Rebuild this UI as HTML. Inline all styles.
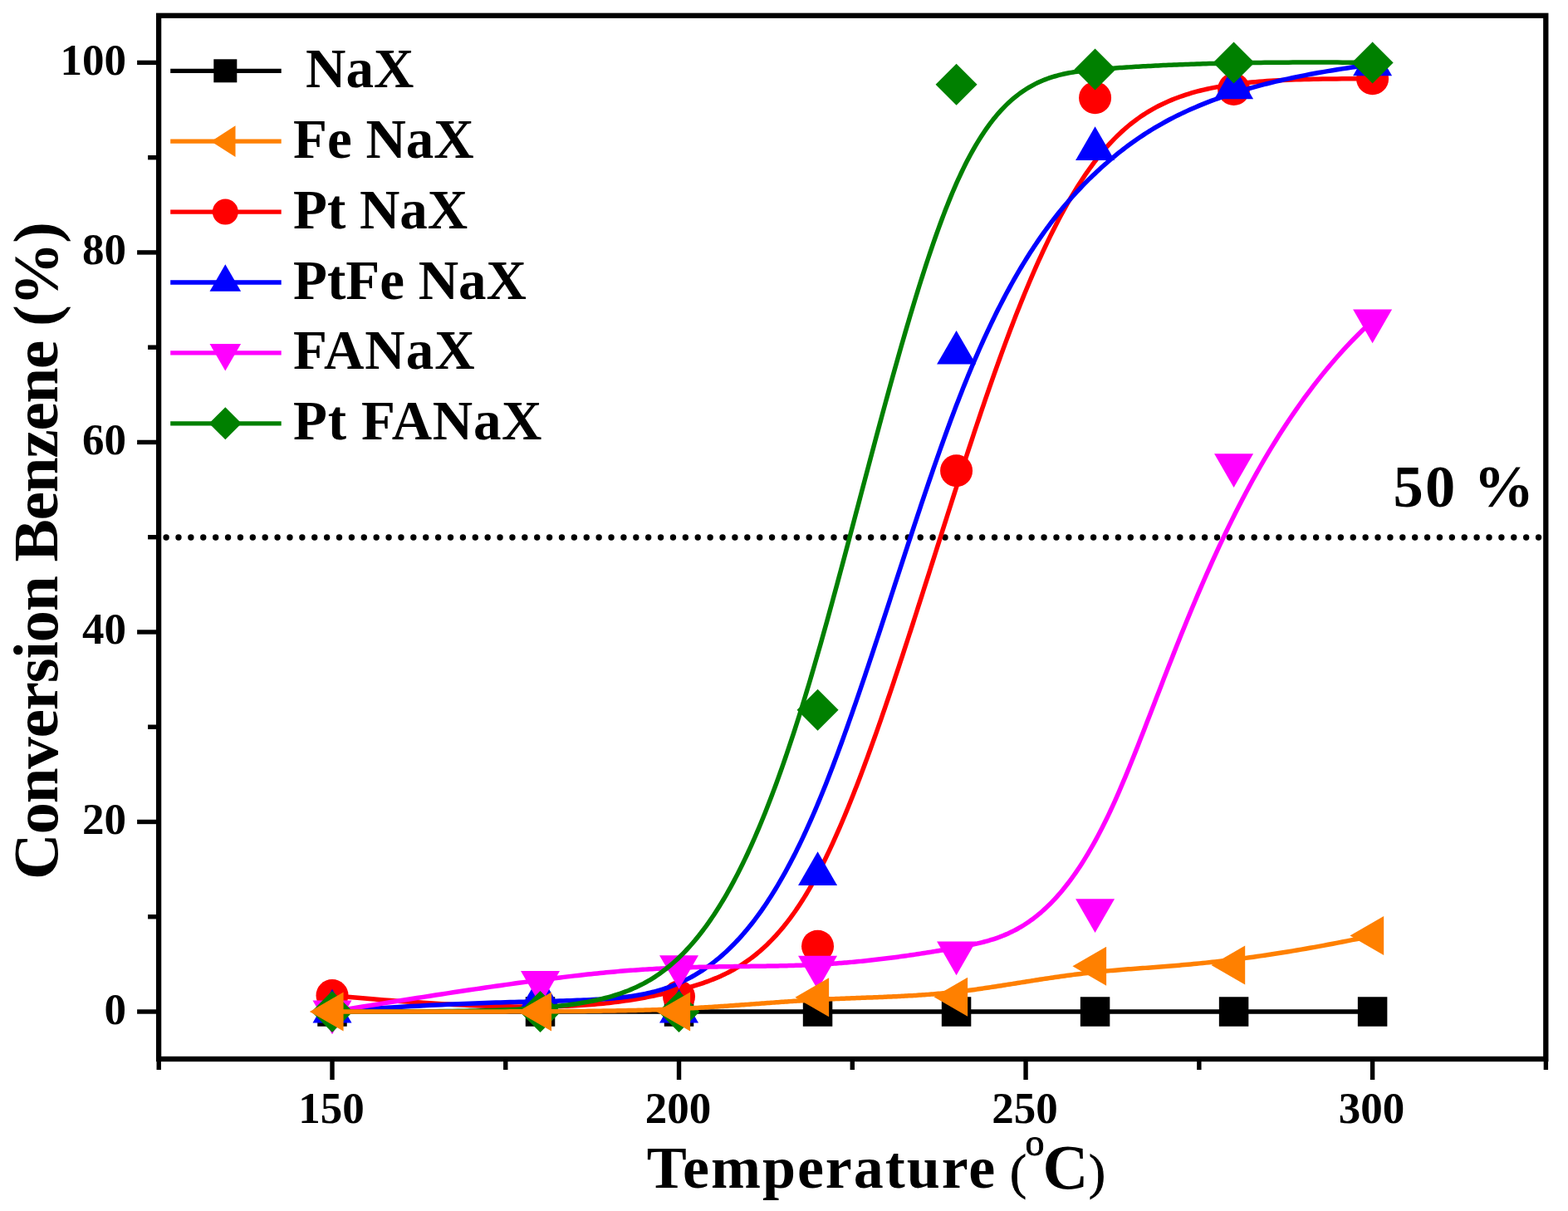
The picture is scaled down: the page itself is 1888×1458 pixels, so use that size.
<!DOCTYPE html><html><head><meta charset="utf-8"><style>html,body{margin:0;padding:0;background:#fff;}svg{display:block;}</style></head><body><svg width="1888" height="1458" viewBox="0 0 1888 1458">
<rect width="1888" height="1458" fill="#fff"/>
<line x1="200.1" y1="647.00" x2="1856" y2="647.00" stroke="#000" stroke-width="7.4" stroke-linecap="round" stroke-dasharray="0 14.887"/>
<path d="M400.00,1218.00 L409.34,1218.00 L418.52,1218.00 L427.55,1218.00 L436.43,1218.00 L445.16,1218.00 L453.74,1218.00 L462.17,1218.00 L470.46,1218.00 L478.61,1218.00 L486.61,1218.00 L494.48,1218.00 L502.21,1218.00 L509.80,1218.00 L517.26,1218.00 L524.58,1218.00 L531.78,1218.00 L538.85,1218.00 L545.79,1218.00 L552.60,1218.00 L559.30,1218.00 L565.87,1218.00 L572.32,1218.00 L578.66,1218.00 L584.88,1218.00 L590.98,1218.00 L596.97,1218.00 L602.86,1218.00 L608.63,1218.00 L614.30,1218.00 L619.86,1218.00 L625.32,1218.00 L630.68,1218.00 L635.94,1218.00 L641.10,1218.00 L646.16,1218.00 L651.13,1218.00 L656.01,1218.00 L660.80,1218.00 L665.50,1218.00 L670.11,1218.00 L674.64,1218.00 L679.08,1218.00 L683.45,1218.00 L687.73,1218.00 L691.94,1218.00 L696.07,1218.00 L700.12,1218.00 L704.10,1218.00 L708.02,1218.00 L711.86,1218.00 L715.63,1218.00 L719.35,1218.00 L722.99,1218.00 L726.58,1218.00 L730.11,1218.00 L733.58,1218.00 L736.99,1218.00 L740.35,1218.00 L743.65,1218.00 L746.91,1218.00 L750.11,1218.00 L753.27,1218.00 L756.38,1218.00 L759.45,1218.00 L762.48,1218.00 L765.47,1218.00 L768.42,1218.00 L771.34,1218.00 L774.22,1218.00 L777.06,1218.00 L779.88,1218.00 L782.67,1218.00 L785.43,1218.00 L788.16,1218.00 L790.87,1218.00 L793.56,1218.00 L796.23,1218.00 L798.88,1218.00 L801.52,1218.00 L804.14,1218.00 L806.74,1218.00 L809.34,1218.00 L811.92,1218.00 L814.49,1218.00 L817.05,1218.00 L819.59,1218.00 L822.12,1218.00 L824.64,1218.00 L827.15,1218.00 L829.65,1218.00 L832.13,1218.00 L834.61,1218.00 L837.07,1218.00 L839.52,1218.00 L841.96,1218.00 L844.39,1218.00 L846.81,1218.00 L849.22,1218.00 L851.62,1218.00 L854.01,1218.00 L856.39,1218.00 L858.76,1218.00 L861.12,1218.00 L863.47,1218.00 L865.82,1218.00 L868.15,1218.00 L870.47,1218.00 L872.79,1218.00 L875.10,1218.00 L877.40,1218.00 L879.69,1218.00 L881.97,1218.00 L884.25,1218.00 L886.51,1218.00 L888.77,1218.00 L891.03,1218.00 L893.27,1218.00 L895.51,1218.00 L897.74,1218.00 L899.97,1218.00 L902.19,1218.00 L904.40,1218.00 L906.60,1218.00 L908.80,1218.00 L911.00,1218.00 L913.19,1218.00 L915.37,1218.00 L917.55,1218.00 L919.72,1218.00 L921.89,1218.00 L924.05,1218.00 L926.21,1218.00 L928.36,1218.00 L930.51,1218.00 L932.65,1218.00 L934.79,1218.00 L936.93,1218.00 L939.06,1218.00 L941.19,1218.00 L943.32,1218.00 L945.44,1218.00 L947.56,1218.00 L949.68,1218.00 L951.79,1218.00 L953.90,1218.00 L956.01,1218.00 L958.12,1218.00 L960.23,1218.00 L962.33,1218.00 L964.43,1218.00 L966.53,1218.00 L968.63,1218.00 L970.73,1218.00 L972.82,1218.00 L974.92,1218.00 L977.01,1218.00 L979.10,1218.00 L981.20,1218.00 L983.29,1218.00 L985.38,1218.00 L987.48,1218.00 L989.57,1218.00 L991.66,1218.00 L993.76,1218.00 L995.85,1218.00 L997.94,1218.00 L1000.03,1218.00 L1002.13,1218.00 L1004.22,1218.00 L1006.31,1218.00 L1008.41,1218.00 L1010.50,1218.00 L1012.59,1218.00 L1014.68,1218.00 L1016.78,1218.00 L1018.87,1218.00 L1020.96,1218.00 L1023.06,1218.00 L1025.15,1218.00 L1027.24,1218.00 L1029.33,1218.00 L1031.43,1218.00 L1033.52,1218.00 L1035.61,1218.00 L1037.71,1218.00 L1039.80,1218.00 L1041.89,1218.00 L1043.99,1218.00 L1046.08,1218.00 L1048.17,1218.00 L1050.26,1218.00 L1052.36,1218.00 L1054.45,1218.00 L1056.54,1218.00 L1058.64,1218.00 L1060.73,1218.00 L1062.82,1218.00 L1064.91,1218.00 L1067.01,1218.00 L1069.10,1218.00 L1071.19,1218.00 L1073.29,1218.00 L1075.38,1218.00 L1077.47,1218.00 L1079.56,1218.00 L1081.66,1218.00 L1083.75,1218.00 L1085.84,1218.00 L1087.94,1218.00 L1090.03,1218.00 L1092.12,1218.00 L1094.21,1218.00 L1096.31,1218.00 L1098.40,1218.00 L1100.49,1218.00 L1102.59,1218.00 L1104.68,1218.00 L1106.77,1218.00 L1108.87,1218.00 L1110.96,1218.00 L1113.05,1218.00 L1115.14,1218.00 L1117.24,1218.00 L1119.33,1218.00 L1121.42,1218.00 L1123.52,1218.00 L1125.61,1218.00 L1127.70,1218.00 L1129.79,1218.00 L1131.89,1218.00 L1133.98,1218.00 L1136.07,1218.00 L1138.17,1218.00 L1140.26,1218.00 L1142.35,1218.00 L1144.44,1218.00 L1146.54,1218.00 L1148.63,1218.00 L1150.72,1218.00 L1152.82,1218.00 L1154.91,1218.00 L1157.00,1218.00 L1159.10,1218.00 L1161.19,1218.00 L1163.29,1218.00 L1165.38,1218.00 L1167.48,1218.00 L1169.58,1218.00 L1171.68,1218.00 L1173.78,1218.00 L1175.88,1218.00 L1177.99,1218.00 L1180.09,1218.00 L1182.20,1218.00 L1184.31,1218.00 L1186.43,1218.00 L1188.54,1218.00 L1190.66,1218.00 L1192.79,1218.00 L1194.91,1218.00 L1197.04,1218.00 L1199.18,1218.00 L1201.31,1218.00 L1203.45,1218.00 L1205.60,1218.00 L1207.75,1218.00 L1209.90,1218.00 L1212.06,1218.00 L1214.22,1218.00 L1216.39,1218.00 L1218.56,1218.00 L1220.74,1218.00 L1222.92,1218.00 L1225.11,1218.00 L1227.30,1218.00 L1229.50,1218.00 L1231.71,1218.00 L1233.92,1218.00 L1236.14,1218.00 L1238.37,1218.00 L1240.60,1218.00 L1242.84,1218.00 L1245.08,1218.00 L1247.33,1218.00 L1249.59,1218.00 L1251.86,1218.00 L1254.14,1218.00 L1256.42,1218.00 L1258.71,1218.00 L1261.01,1218.00 L1263.32,1218.00 L1265.63,1218.00 L1267.96,1218.00 L1270.29,1218.00 L1272.63,1218.00 L1274.99,1218.00 L1277.35,1218.00 L1279.72,1218.00 L1282.10,1218.00 L1284.49,1218.00 L1286.89,1218.00 L1289.30,1218.00 L1291.72,1218.00 L1294.15,1218.00 L1296.59,1218.00 L1299.04,1218.00 L1301.50,1218.00 L1303.98,1218.00 L1306.46,1218.00 L1308.96,1218.00 L1311.47,1218.00 L1313.99,1218.00 L1316.52,1218.00 L1319.06,1218.00 L1321.62,1218.00 L1324.19,1218.00 L1326.77,1218.00 L1329.36,1218.00 L1331.97,1218.00 L1334.59,1218.00 L1337.22,1218.00 L1339.87,1218.00 L1342.54,1218.00 L1345.22,1218.00 L1347.91,1218.00 L1350.63,1218.00 L1353.36,1218.00 L1356.12,1218.00 L1358.89,1218.00 L1361.68,1218.00 L1364.50,1218.00 L1367.34,1218.00 L1370.20,1218.00 L1373.09,1218.00 L1376.00,1218.00 L1378.94,1218.00 L1381.91,1218.00 L1384.90,1218.00 L1387.93,1218.00 L1390.98,1218.00 L1394.06,1218.00 L1397.17,1218.00 L1400.32,1218.00 L1403.49,1218.00 L1406.70,1218.00 L1409.95,1218.00 L1413.23,1218.00 L1416.55,1218.00 L1419.90,1218.00 L1423.29,1218.00 L1426.72,1218.00 L1430.19,1218.00 L1433.70,1218.00 L1437.25,1218.00 L1440.84,1218.00 L1444.47,1218.00 L1448.15,1218.00 L1451.87,1218.00 L1455.63,1218.00 L1459.45,1218.00 L1463.30,1218.00 L1467.21,1218.00 L1471.16,1218.00 L1475.17,1218.00 L1479.22,1218.00 L1483.33,1218.00 L1487.48,1218.00 L1491.69,1218.00 L1495.95,1218.00 L1500.26,1218.00 L1504.64,1218.00 L1509.06,1218.00 L1513.54,1218.00 L1518.08,1218.00 L1522.68,1218.00 L1527.34,1218.00 L1532.05,1218.00 L1536.83,1218.00 L1541.67,1218.00 L1546.57,1218.00 L1551.53,1218.00 L1556.56,1218.00 L1561.65,1218.00 L1566.81,1218.00 L1572.04,1218.00 L1577.33,1218.00 L1582.69,1218.00 L1588.11,1218.00 L1593.61,1218.00 L1599.18,1218.00 L1604.82,1218.00 L1610.53,1218.00 L1616.32,1218.00 L1622.18,1218.00 L1628.11,1218.00 L1634.12,1218.00 L1640.20,1218.00 L1646.36,1218.00 L1652.60,1218.00" fill="none" stroke="#000000" stroke-width="5.5" stroke-linejoin="round"/>
<rect x="382.25" y="1200.25" width="35.5" height="35.5" fill="#000000"/>
<rect x="632.77" y="1200.25" width="35.5" height="35.5" fill="#000000"/>
<rect x="799.78" y="1200.25" width="35.5" height="35.5" fill="#000000"/>
<rect x="966.80" y="1200.25" width="35.5" height="35.5" fill="#000000"/>
<rect x="1133.81" y="1200.25" width="35.5" height="35.5" fill="#000000"/>
<rect x="1300.82" y="1200.25" width="35.5" height="35.5" fill="#000000"/>
<rect x="1467.84" y="1200.25" width="35.5" height="35.5" fill="#000000"/>
<rect x="1634.85" y="1200.25" width="35.5" height="35.5" fill="#000000"/>
<path d="M400.00,1198.58 L409.34,1199.43 L418.53,1200.26 L427.57,1201.05 L436.46,1201.81 L445.19,1202.55 L453.77,1203.25 L462.21,1203.92 L470.51,1204.56 L478.66,1205.18 L486.66,1205.76 L494.53,1206.32 L502.26,1206.85 L509.86,1207.35 L517.32,1207.82 L524.65,1208.27 L531.85,1208.69 L538.92,1209.08 L545.86,1209.45 L552.67,1209.79 L559.37,1210.11 L565.94,1210.40 L572.39,1210.67 L578.73,1210.91 L584.95,1211.13 L591.05,1211.32 L597.04,1211.49 L602.93,1211.64 L608.70,1211.77 L614.37,1211.87 L619.93,1211.95 L625.38,1212.01 L630.74,1212.05 L636.00,1212.06 L641.15,1212.06 L646.22,1212.04 L651.18,1211.99 L656.06,1211.93 L660.84,1211.84 L665.54,1211.74 L670.15,1211.62 L674.67,1211.48 L679.11,1211.32 L683.47,1211.15 L687.75,1210.95 L691.95,1210.74 L696.08,1210.52 L700.13,1210.27 L704.10,1210.02 L708.01,1209.74 L711.85,1209.45 L715.62,1209.15 L719.33,1208.83 L722.97,1208.49 L726.55,1208.14 L730.07,1207.78 L733.53,1207.40 L736.94,1207.02 L740.29,1206.61 L743.59,1206.20 L746.84,1205.78 L750.04,1205.34 L753.19,1204.89 L756.30,1204.43 L759.37,1203.96 L762.39,1203.48 L765.37,1202.99 L768.31,1202.49 L771.22,1201.98 L774.10,1201.46 L776.94,1200.93 L779.75,1200.39 L782.53,1199.85 L785.28,1199.30 L788.01,1198.74 L790.72,1198.17 L793.40,1197.60 L796.06,1197.02 L798.71,1196.43 L801.34,1195.84 L803.95,1195.24 L806.55,1194.64 L809.14,1194.03 L811.72,1193.42 L814.28,1192.79 L816.83,1192.16 L819.37,1191.52 L821.89,1190.87 L824.41,1190.20 L826.91,1189.52 L829.40,1188.83 L831.88,1188.13 L834.35,1187.40 L836.81,1186.66 L839.26,1185.91 L841.69,1185.13 L844.12,1184.34 L846.53,1183.53 L848.94,1182.69 L851.34,1181.84 L853.72,1180.96 L856.10,1180.05 L858.46,1179.12 L860.82,1178.17 L863.17,1177.19 L865.51,1176.18 L867.84,1175.14 L870.16,1174.08 L872.47,1172.98 L874.78,1171.85 L877.07,1170.69 L879.36,1169.49 L881.64,1168.26 L883.92,1167.00 L886.18,1165.70 L888.44,1164.36 L890.69,1162.99 L892.94,1161.58 L895.18,1160.12 L897.41,1158.63 L899.63,1157.09 L901.85,1155.51 L904.06,1153.89 L906.27,1152.23 L908.47,1150.51 L910.67,1148.76 L912.85,1146.95 L915.04,1145.10 L917.22,1143.19 L919.39,1141.24 L921.56,1139.24 L923.73,1137.18 L925.89,1135.07 L928.04,1132.91 L930.20,1130.69 L932.34,1128.42 L934.49,1126.09 L936.63,1123.71 L938.77,1121.26 L940.90,1118.76 L943.03,1116.19 L945.16,1113.57 L947.29,1110.88 L949.41,1108.13 L951.53,1105.31 L953.65,1102.43 L955.77,1099.49 L957.88,1096.47 L959.99,1093.39 L962.11,1090.24 L964.22,1087.02 L966.32,1083.73 L968.43,1080.37 L970.54,1076.94 L972.64,1073.43 L974.75,1069.85 L976.86,1066.20 L978.96,1062.46 L981.07,1058.65 L983.17,1054.77 L985.28,1050.80 L987.38,1046.75 L989.49,1042.63 L991.59,1038.43 L993.70,1034.16 L995.81,1029.81 L997.92,1025.38 L1000.02,1020.89 L1002.13,1016.32 L1004.24,1011.69 L1006.35,1006.99 L1008.46,1002.22 L1010.57,997.38 L1012.68,992.48 L1014.79,987.52 L1016.90,982.50 L1019.01,977.41 L1021.12,972.27 L1023.23,967.06 L1025.33,961.80 L1027.44,956.49 L1029.55,951.11 L1031.67,945.69 L1033.78,940.21 L1035.89,934.68 L1038.00,929.10 L1040.10,923.48 L1042.21,917.80 L1044.32,912.08 L1046.43,906.31 L1048.54,900.50 L1050.65,894.65 L1052.76,888.76 L1054.87,882.82 L1056.98,876.85 L1059.09,870.84 L1061.20,864.79 L1063.30,858.70 L1065.41,852.59 L1067.52,846.43 L1069.63,840.25 L1071.73,834.04 L1073.84,827.80 L1075.95,821.53 L1078.05,815.23 L1080.16,808.90 L1082.26,802.56 L1084.37,796.18 L1086.47,789.79 L1088.57,783.38 L1090.68,776.94 L1092.78,770.49 L1094.88,764.02 L1096.98,757.53 L1099.08,751.03 L1101.18,744.52 L1103.28,737.99 L1105.38,731.45 L1107.48,724.91 L1109.58,718.35 L1111.67,711.79 L1113.77,705.21 L1115.86,698.64 L1117.96,692.06 L1120.05,685.48 L1122.15,678.89 L1124.24,672.31 L1126.33,665.72 L1128.42,659.14 L1130.51,652.57 L1132.60,645.99 L1134.69,639.42 L1136.77,632.86 L1138.86,626.31 L1140.94,619.77 L1143.03,613.24 L1145.11,606.71 L1147.19,600.21 L1149.27,593.71 L1151.35,587.24 L1153.43,580.77 L1155.51,574.33 L1157.59,567.90 L1159.66,561.50 L1161.74,555.11 L1163.82,548.74 L1165.89,542.40 L1167.97,536.07 L1170.05,529.77 L1172.12,523.49 L1174.20,517.23 L1176.28,511.00 L1178.36,504.79 L1180.44,498.61 L1182.52,492.45 L1184.61,486.33 L1186.69,480.22 L1188.78,474.15 L1190.87,468.11 L1192.96,462.09 L1195.06,456.11 L1197.16,450.15 L1199.26,444.23 L1201.36,438.34 L1203.47,432.48 L1205.58,426.65 L1207.69,420.86 L1209.81,415.11 L1211.93,409.39 L1214.06,403.70 L1216.19,398.05 L1218.33,392.44 L1220.47,386.87 L1222.61,381.34 L1224.76,375.84 L1226.92,370.39 L1229.08,364.97 L1231.25,359.60 L1233.42,354.27 L1235.60,348.98 L1237.79,343.74 L1239.98,338.53 L1242.18,333.38 L1244.38,328.27 L1246.59,323.20 L1248.81,318.18 L1251.04,313.21 L1253.28,308.29 L1255.52,303.42 L1257.77,298.59 L1260.03,293.82 L1262.30,289.09 L1264.57,284.42 L1266.86,279.80 L1269.15,275.23 L1271.45,270.71 L1273.76,266.25 L1276.08,261.84 L1278.42,257.49 L1280.76,253.19 L1283.11,248.95 L1285.47,244.77 L1287.84,240.65 L1290.22,236.58 L1292.61,232.57 L1295.02,228.63 L1297.43,224.74 L1299.86,220.91 L1302.29,217.15 L1304.74,213.45 L1307.20,209.81 L1309.68,206.24 L1312.16,202.73 L1314.66,199.28 L1317.17,195.90 L1319.69,192.59 L1322.23,189.34 L1324.78,186.17 L1327.34,183.06 L1329.92,180.02 L1332.51,177.05 L1335.11,174.14 L1337.73,171.31 L1340.37,168.55 L1343.02,165.85 L1345.69,163.22 L1348.38,160.65 L1351.09,158.14 L1353.82,155.71 L1356.57,153.33 L1359.34,151.01 L1362.14,148.76 L1364.96,146.57 L1367.80,144.43 L1370.67,142.36 L1373.57,140.34 L1376.49,138.38 L1379.44,136.48 L1382.42,134.63 L1385.43,132.84 L1388.47,131.10 L1391.55,129.41 L1394.65,127.78 L1397.79,126.20 L1400.96,124.66 L1404.16,123.18 L1407.41,121.75 L1410.69,120.37 L1414.00,119.03 L1417.36,117.74 L1420.75,116.49 L1424.18,115.29 L1427.66,114.14 L1431.17,113.03 L1434.73,111.96 L1438.33,110.93 L1441.98,109.94 L1445.67,108.99 L1449.40,108.09 L1453.19,107.22 L1457.02,106.39 L1460.90,105.59 L1464.83,104.84 L1468.81,104.11 L1472.83,103.43 L1476.92,102.77 L1481.05,102.15 L1485.24,101.56 L1489.48,101.00 L1493.78,100.48 L1498.13,99.98 L1502.54,99.51 L1507.01,99.07 L1511.54,98.65 L1516.12,98.27 L1520.77,97.91 L1525.48,97.57 L1530.25,97.26 L1535.08,96.97 L1539.98,96.70 L1544.94,96.45 L1549.97,96.23 L1555.06,96.03 L1560.22,95.84 L1565.45,95.67 L1570.74,95.52 L1576.11,95.39 L1581.55,95.27 L1587.06,95.17 L1592.64,95.09 L1598.29,95.01 L1604.02,94.95 L1609.82,94.90 L1615.70,94.86 L1621.65,94.84 L1627.68,94.82 L1633.79,94.81 L1639.98,94.81 L1646.25,94.81 L1652.60,94.82" fill="none" stroke="#FF0000" stroke-width="5.5" stroke-linejoin="round"/>
<circle cx="400.00" cy="1198.58" r="19.5" fill="#FF0000"/>
<circle cx="650.52" cy="1213.43" r="19.5" fill="#FF0000"/>
<circle cx="817.53" cy="1199.72" r="19.5" fill="#FF0000"/>
<circle cx="984.55" cy="1139.16" r="19.5" fill="#FF0000"/>
<circle cx="1151.56" cy="566.72" r="19.5" fill="#FF0000"/>
<circle cx="1318.57" cy="117.68" r="19.5" fill="#FF0000"/>
<circle cx="1485.59" cy="107.39" r="19.5" fill="#FF0000"/>
<circle cx="1652.60" cy="94.82" r="19.5" fill="#FF0000"/>
<path d="M400.00,1218.00 L409.36,1217.27 L418.57,1216.57 L427.63,1215.90 L436.52,1215.26 L445.27,1214.65 L453.86,1214.06 L462.30,1213.51 L470.60,1212.98 L478.75,1212.48 L486.75,1212.01 L494.61,1211.55 L502.34,1211.13 L509.92,1210.72 L517.37,1210.34 L524.69,1209.97 L531.87,1209.63 L538.92,1209.31 L545.84,1209.00 L552.64,1208.71 L559.31,1208.44 L565.86,1208.18 L572.28,1207.94 L578.59,1207.72 L584.78,1207.50 L590.85,1207.30 L596.81,1207.11 L602.65,1206.93 L608.39,1206.76 L614.02,1206.60 L619.54,1206.45 L624.96,1206.30 L630.27,1206.16 L635.49,1206.02 L640.60,1205.89 L645.62,1205.77 L650.54,1205.64 L655.37,1205.52 L660.11,1205.40 L664.76,1205.28 L669.32,1205.16 L673.79,1205.04 L678.18,1204.91 L682.49,1204.78 L686.72,1204.65 L690.87,1204.52 L694.94,1204.37 L698.94,1204.22 L702.87,1204.07 L706.73,1203.90 L710.51,1203.73 L714.23,1203.54 L717.88,1203.35 L721.47,1203.14 L725.00,1202.92 L728.47,1202.69 L731.88,1202.44 L735.24,1202.17 L738.54,1201.89 L741.79,1201.60 L744.99,1201.28 L748.14,1200.95 L751.24,1200.60 L754.30,1200.23 L757.32,1199.83 L760.29,1199.42 L763.23,1198.98 L766.13,1198.51 L768.99,1198.03 L771.82,1197.51 L774.62,1196.97 L777.39,1196.41 L780.13,1195.81 L782.85,1195.19 L785.54,1194.54 L788.21,1193.85 L790.85,1193.13 L793.48,1192.39 L796.10,1191.60 L798.69,1190.79 L801.28,1189.94 L803.85,1189.05 L806.42,1188.13 L808.97,1187.17 L811.51,1186.17 L814.04,1185.14 L816.56,1184.07 L819.07,1182.96 L821.56,1181.81 L824.05,1180.62 L826.53,1179.39 L829.00,1178.13 L831.45,1176.82 L833.90,1175.47 L836.34,1174.08 L838.77,1172.65 L841.19,1171.18 L843.60,1169.66 L846.01,1168.10 L848.40,1166.50 L850.78,1164.85 L853.16,1163.17 L855.53,1161.43 L857.89,1159.65 L860.24,1157.83 L862.58,1155.96 L864.92,1154.04 L867.25,1152.08 L869.57,1150.07 L871.88,1148.01 L874.19,1145.91 L876.49,1143.76 L878.78,1141.55 L881.07,1139.30 L883.35,1137.00 L885.62,1134.65 L887.89,1132.25 L890.15,1129.80 L892.40,1127.30 L894.65,1124.75 L896.89,1122.14 L899.13,1119.48 L901.36,1116.77 L903.59,1114.01 L905.81,1111.19 L908.03,1108.32 L910.24,1105.39 L912.45,1102.41 L914.65,1099.37 L916.85,1096.28 L919.04,1093.13 L921.23,1089.93 L923.41,1086.66 L925.60,1083.35 L927.77,1079.97 L929.95,1076.53 L932.12,1073.04 L934.29,1069.49 L936.45,1065.87 L938.61,1062.20 L940.77,1058.47 L942.93,1054.68 L945.08,1050.82 L947.23,1046.91 L949.38,1042.93 L951.53,1038.89 L953.67,1034.79 L955.82,1030.62 L957.96,1026.39 L960.10,1022.10 L962.24,1017.74 L964.37,1013.32 L966.51,1008.83 L968.64,1004.27 L970.78,999.65 L972.91,994.97 L975.05,990.22 L977.18,985.39 L979.31,980.51 L981.44,975.55 L983.58,970.52 L985.71,965.43 L987.84,960.27 L989.98,955.05 L992.11,949.76 L994.24,944.41 L996.38,939.00 L998.51,933.53 L1000.64,928.00 L1002.78,922.42 L1004.91,916.79 L1007.04,911.10 L1009.18,905.36 L1011.31,899.57 L1013.45,893.74 L1015.58,887.86 L1017.71,881.93 L1019.85,875.96 L1021.98,869.95 L1024.11,863.90 L1026.25,857.82 L1028.38,851.69 L1030.51,845.54 L1032.64,839.34 L1034.78,833.12 L1036.91,826.87 L1039.04,820.59 L1041.17,814.28 L1043.30,807.94 L1045.44,801.59 L1047.57,795.21 L1049.70,788.81 L1051.83,782.39 L1053.96,775.95 L1056.09,769.50 L1058.22,763.03 L1060.35,756.55 L1062.47,750.06 L1064.60,743.56 L1066.73,737.06 L1068.86,730.54 L1070.98,724.03 L1073.11,717.50 L1075.24,710.98 L1077.36,704.46 L1079.49,697.94 L1081.61,691.42 L1083.74,684.91 L1085.86,678.40 L1087.98,671.91 L1090.10,665.42 L1092.23,658.94 L1094.35,652.48 L1096.47,646.03 L1098.59,639.59 L1100.71,633.18 L1102.82,626.78 L1104.94,620.40 L1107.06,614.05 L1109.17,607.72 L1111.29,601.42 L1113.40,595.14 L1115.52,588.89 L1117.63,582.67 L1119.74,576.49 L1121.86,570.33 L1123.97,564.22 L1126.08,558.13 L1128.18,552.09 L1130.29,546.09 L1132.40,540.13 L1134.51,534.21 L1136.61,528.34 L1138.72,522.51 L1140.82,516.73 L1142.92,511.00 L1145.02,505.32 L1147.12,499.69 L1149.22,494.12 L1151.32,488.60 L1153.42,483.14 L1155.52,477.74 L1157.61,472.40 L1159.71,467.11 L1161.80,461.88 L1163.90,456.70 L1165.99,451.58 L1168.09,446.51 L1170.18,441.50 L1172.28,436.55 L1174.37,431.64 L1176.47,426.79 L1178.57,422.00 L1180.67,417.25 L1182.77,412.56 L1184.87,407.92 L1186.98,403.33 L1189.08,398.79 L1191.19,394.30 L1193.30,389.86 L1195.42,385.47 L1197.53,381.12 L1199.65,376.83 L1201.77,372.58 L1203.90,368.38 L1206.03,364.23 L1208.16,360.13 L1210.30,356.07 L1212.44,352.05 L1214.58,348.08 L1216.73,344.16 L1218.89,340.28 L1221.04,336.44 L1223.21,332.65 L1225.38,328.90 L1227.55,325.19 L1229.73,321.52 L1231.91,317.90 L1234.10,314.32 L1236.30,310.77 L1238.51,307.27 L1240.71,303.81 L1242.93,300.39 L1245.15,297.00 L1247.38,293.66 L1249.62,290.35 L1251.87,287.08 L1254.12,283.84 L1256.38,280.65 L1258.64,277.48 L1260.92,274.36 L1263.20,271.27 L1265.50,268.21 L1267.80,265.19 L1270.11,262.21 L1272.42,259.25 L1274.75,256.33 L1277.09,253.44 L1279.44,250.59 L1281.79,247.76 L1284.16,244.97 L1286.54,242.21 L1288.92,239.47 L1291.32,236.77 L1293.73,234.10 L1296.15,231.45 L1298.58,228.84 L1301.02,226.25 L1303.47,223.69 L1305.93,221.16 L1308.41,218.65 L1310.90,216.17 L1313.39,213.72 L1315.91,211.29 L1318.43,208.89 L1320.97,206.51 L1323.52,204.15 L1326.08,201.82 L1328.66,199.51 L1331.25,197.23 L1333.85,194.96 L1336.47,192.72 L1339.10,190.50 L1341.75,188.30 L1344.41,186.13 L1347.09,183.97 L1349.80,181.84 L1352.52,179.73 L1355.26,177.64 L1358.02,175.57 L1360.80,173.52 L1363.61,171.49 L1366.44,169.49 L1369.29,167.50 L1372.17,165.54 L1375.07,163.60 L1378.00,161.67 L1380.96,159.77 L1383.95,157.89 L1386.96,156.03 L1390.01,154.18 L1393.09,152.36 L1396.19,150.56 L1399.33,148.78 L1402.51,147.02 L1405.72,145.28 L1408.96,143.55 L1412.24,141.85 L1415.55,140.17 L1418.91,138.50 L1422.30,136.86 L1425.73,135.23 L1429.20,133.62 L1432.71,132.03 L1436.26,130.46 L1439.86,128.91 L1443.50,127.38 L1447.18,125.87 L1450.91,124.37 L1454.68,122.89 L1458.50,121.44 L1462.37,119.99 L1466.28,118.57 L1470.25,117.17 L1474.26,115.78 L1478.33,114.41 L1482.44,113.06 L1486.61,111.72 L1490.83,110.41 L1495.11,109.11 L1499.44,107.83 L1503.83,106.56 L1508.27,105.31 L1512.77,104.08 L1517.33,102.87 L1521.95,101.67 L1526.62,100.49 L1531.36,99.32 L1536.16,98.17 L1541.02,97.04 L1545.95,95.93 L1550.93,94.83 L1555.99,93.74 L1561.11,92.68 L1566.29,91.63 L1571.54,90.59 L1576.86,89.57 L1582.25,88.56 L1587.71,87.58 L1593.24,86.60 L1598.84,85.64 L1604.52,84.70 L1610.26,83.77 L1616.08,82.86 L1621.98,81.96 L1627.95,81.08 L1634.00,80.21 L1640.12,79.35 L1646.32,78.51 L1652.60,77.69" fill="none" stroke="#0000FF" stroke-width="5.5" stroke-linejoin="round"/>
<polygon points="400.00,1190.86 423.50,1231.57 376.50,1231.57" fill="#0000FF"/>
<polygon points="650.52,1172.58 674.02,1213.29 627.02,1213.29" fill="#0000FF"/>
<polygon points="817.53,1190.86 841.03,1231.57 794.03,1231.57" fill="#0000FF"/>
<polygon points="984.55,1025.19 1008.05,1065.89 961.05,1065.89" fill="#0000FF"/>
<polygon points="1151.56,397.90 1175.06,438.60 1128.06,438.60" fill="#0000FF"/>
<polygon points="1318.57,152.24 1342.07,192.94 1295.07,192.94" fill="#0000FF"/>
<polygon points="1485.59,78.54 1509.09,119.25 1462.09,119.25" fill="#0000FF"/>
<polygon points="1652.60,50.55 1676.10,91.25 1629.10,91.25" fill="#0000FF"/>
<path d="M400.00,1218.00 L409.33,1216.46 L418.51,1214.96 L427.53,1213.48 L436.41,1212.04 L445.13,1210.63 L453.71,1209.24 L462.13,1207.89 L470.42,1206.56 L478.56,1205.26 L486.56,1204.00 L494.42,1202.75 L502.14,1201.54 L509.73,1200.36 L517.18,1199.20 L524.51,1198.07 L531.70,1196.96 L538.76,1195.88 L545.70,1194.83 L552.51,1193.80 L559.20,1192.80 L565.77,1191.82 L572.22,1190.87 L578.55,1189.94 L584.77,1189.03 L590.87,1188.15 L596.86,1187.29 L602.74,1186.45 L608.51,1185.64 L614.17,1184.85 L619.73,1184.08 L625.19,1183.33 L630.54,1182.60 L635.80,1181.89 L640.96,1181.20 L646.02,1180.54 L650.99,1179.89 L655.87,1179.26 L660.65,1178.65 L665.35,1178.06 L669.96,1177.49 L674.49,1176.93 L678.93,1176.39 L683.29,1175.87 L687.57,1175.37 L691.77,1174.89 L695.90,1174.42 L699.96,1173.96 L703.94,1173.52 L707.85,1173.10 L711.69,1172.69 L715.46,1172.30 L719.17,1171.92 L722.82,1171.55 L726.41,1171.20 L729.93,1170.86 L733.40,1170.53 L736.81,1170.22 L740.17,1169.92 L743.47,1169.63 L746.73,1169.35 L749.93,1169.08 L753.09,1168.83 L756.20,1168.58 L759.27,1168.35 L762.30,1168.12 L765.29,1167.90 L768.24,1167.70 L771.15,1167.50 L774.03,1167.31 L776.88,1167.13 L779.70,1166.95 L782.48,1166.79 L785.24,1166.63 L787.98,1166.48 L790.69,1166.33 L793.38,1166.19 L796.05,1166.06 L798.70,1165.93 L801.33,1165.80 L803.95,1165.68 L806.56,1165.57 L809.16,1165.46 L811.74,1165.35 L814.31,1165.25 L816.86,1165.15 L819.41,1165.06 L821.94,1164.97 L824.46,1164.88 L826.97,1164.80 L829.47,1164.72 L831.95,1164.64 L834.43,1164.57 L836.89,1164.50 L839.34,1164.44 L841.78,1164.37 L844.22,1164.31 L846.64,1164.25 L849.05,1164.20 L851.45,1164.14 L853.84,1164.09 L856.22,1164.04 L858.59,1164.00 L860.95,1163.95 L863.31,1163.91 L865.65,1163.87 L867.98,1163.83 L870.31,1163.79 L872.63,1163.76 L874.94,1163.72 L877.24,1163.69 L879.53,1163.66 L881.82,1163.63 L884.10,1163.60 L886.37,1163.57 L888.63,1163.54 L890.88,1163.51 L893.13,1163.48 L895.37,1163.46 L897.61,1163.43 L899.84,1163.40 L902.06,1163.38 L904.27,1163.35 L906.48,1163.32 L908.69,1163.30 L910.88,1163.27 L913.08,1163.24 L915.26,1163.21 L917.44,1163.19 L919.62,1163.16 L921.79,1163.13 L923.96,1163.09 L926.12,1163.06 L928.28,1163.03 L930.43,1162.99 L932.58,1162.95 L934.73,1162.92 L936.87,1162.88 L939.01,1162.83 L941.14,1162.79 L943.28,1162.74 L945.41,1162.70 L947.53,1162.65 L949.65,1162.59 L951.77,1162.54 L953.89,1162.48 L956.01,1162.42 L958.12,1162.36 L960.24,1162.29 L962.35,1162.22 L964.45,1162.15 L966.56,1162.07 L968.67,1162.00 L970.77,1161.91 L972.88,1161.83 L974.98,1161.74 L977.08,1161.65 L979.19,1161.55 L981.29,1161.45 L983.39,1161.34 L985.49,1161.23 L987.60,1161.12 L989.70,1161.00 L991.80,1160.88 L993.91,1160.76 L996.01,1160.63 L998.11,1160.49 L1000.22,1160.35 L1002.32,1160.21 L1004.43,1160.06 L1006.53,1159.91 L1008.64,1159.76 L1010.74,1159.60 L1012.85,1159.43 L1014.96,1159.27 L1017.07,1159.10 L1019.17,1158.92 L1021.28,1158.74 L1023.39,1158.56 L1025.50,1158.37 L1027.61,1158.18 L1029.73,1157.98 L1031.84,1157.79 L1033.95,1157.58 L1036.06,1157.38 L1038.18,1157.16 L1040.29,1156.95 L1042.41,1156.73 L1044.52,1156.51 L1046.64,1156.28 L1048.76,1156.05 L1050.88,1155.82 L1053.00,1155.58 L1055.12,1155.34 L1057.24,1155.10 L1059.36,1154.85 L1061.49,1154.60 L1063.61,1154.34 L1065.74,1154.08 L1067.86,1153.82 L1069.99,1153.55 L1072.12,1153.28 L1074.25,1153.01 L1076.38,1152.73 L1078.51,1152.45 L1080.64,1152.16 L1082.78,1151.88 L1084.91,1151.58 L1087.05,1151.29 L1089.19,1150.99 L1091.33,1150.69 L1093.47,1150.38 L1095.61,1150.07 L1097.75,1149.76 L1099.90,1149.45 L1102.04,1149.13 L1104.19,1148.80 L1106.34,1148.48 L1108.49,1148.15 L1110.64,1147.82 L1112.79,1147.48 L1114.94,1147.14 L1117.10,1146.80 L1119.26,1146.45 L1121.42,1146.11 L1123.58,1145.75 L1125.74,1145.40 L1127.90,1145.04 L1130.07,1144.68 L1132.23,1144.31 L1134.40,1143.95 L1136.57,1143.57 L1138.75,1143.20 L1140.92,1142.82 L1143.10,1142.44 L1145.27,1142.06 L1147.45,1141.67 L1149.63,1141.28 L1151.82,1140.89 L1154.00,1140.50 L1156.19,1140.10 L1158.38,1139.70 L1160.57,1139.29 L1162.76,1138.87 L1164.95,1138.45 L1167.15,1138.02 L1169.35,1137.57 L1171.55,1137.12 L1173.75,1136.64 L1175.96,1136.16 L1178.17,1135.65 L1180.38,1135.12 L1182.59,1134.58 L1184.81,1134.01 L1187.03,1133.42 L1189.25,1132.80 L1191.47,1132.16 L1193.70,1131.48 L1195.93,1130.78 L1198.16,1130.05 L1200.40,1129.28 L1202.64,1128.48 L1204.88,1127.64 L1207.12,1126.77 L1209.37,1125.85 L1211.62,1124.90 L1213.88,1123.90 L1216.14,1122.86 L1218.40,1121.78 L1220.67,1120.65 L1222.93,1119.47 L1225.21,1118.23 L1227.48,1116.95 L1229.76,1115.62 L1232.05,1114.23 L1234.33,1112.78 L1236.63,1111.28 L1238.92,1109.72 L1241.22,1108.10 L1243.52,1106.42 L1245.83,1104.67 L1248.14,1102.86 L1250.46,1100.98 L1252.78,1099.03 L1255.10,1097.01 L1257.43,1094.92 L1259.77,1092.76 L1262.10,1090.53 L1264.45,1088.22 L1266.79,1085.83 L1269.14,1083.36 L1271.50,1080.81 L1273.86,1078.18 L1276.23,1075.47 L1278.60,1072.67 L1280.97,1069.79 L1283.36,1066.82 L1285.74,1063.75 L1288.13,1060.60 L1290.53,1057.35 L1292.93,1054.01 L1295.34,1050.58 L1297.75,1047.04 L1300.17,1043.41 L1302.59,1039.68 L1305.02,1035.85 L1307.45,1031.91 L1309.89,1027.87 L1312.34,1023.72 L1314.79,1019.46 L1317.24,1015.09 L1319.71,1010.62 L1322.18,1006.03 L1324.65,1001.32 L1327.13,996.50 L1329.62,991.57 L1332.11,986.51 L1334.61,981.33 L1337.11,976.04 L1339.62,970.62 L1342.14,965.07 L1344.67,959.40 L1347.20,953.62 L1349.74,947.71 L1352.30,941.69 L1354.86,935.57 L1357.44,929.33 L1360.03,922.99 L1362.64,916.55 L1365.26,910.00 L1367.90,903.37 L1370.55,896.64 L1373.23,889.82 L1375.92,882.91 L1378.64,875.92 L1381.38,868.85 L1384.14,861.71 L1386.93,854.48 L1389.74,847.19 L1392.58,839.83 L1395.45,832.40 L1398.35,824.91 L1401.27,817.36 L1404.23,809.75 L1407.22,802.09 L1410.24,794.38 L1413.30,786.62 L1416.39,778.82 L1419.52,770.97 L1422.68,763.09 L1425.89,755.17 L1429.13,747.22 L1432.42,739.24 L1435.74,731.23 L1439.11,723.20 L1442.53,715.15 L1445.98,707.08 L1449.49,699.00 L1453.04,690.90 L1456.64,682.80 L1460.29,674.69 L1463.99,666.58 L1467.74,658.47 L1471.54,650.36 L1475.40,642.26 L1479.31,634.17 L1483.28,626.09 L1487.30,618.03 L1491.39,609.98 L1495.53,601.96 L1499.73,593.96 L1503.99,585.99 L1508.32,578.05 L1512.71,570.14 L1517.16,562.27 L1521.68,554.44 L1526.26,546.65 L1530.92,538.91 L1535.64,531.21 L1540.43,523.57 L1545.29,515.98 L1550.23,508.45 L1555.24,500.98 L1560.32,493.58 L1565.48,486.24 L1570.71,478.97 L1576.02,471.77 L1581.41,464.65 L1586.88,457.61 L1592.43,450.65 L1598.06,443.77 L1603.78,436.98 L1609.57,430.28 L1615.46,423.68 L1621.43,417.17 L1627.48,410.76 L1633.63,404.46 L1639.86,398.26 L1646.19,392.17 L1652.60,386.19" fill="none" stroke="#FF00FF" stroke-width="5.5" stroke-linejoin="round"/>
<polygon points="400.00,1245.14 423.50,1204.43 376.50,1204.43" fill="#FF00FF"/>
<polygon points="650.52,1209.71 674.02,1169.01 627.02,1169.01" fill="#FF00FF"/>
<polygon points="817.53,1190.86 841.03,1150.16 794.03,1150.16" fill="#FF00FF"/>
<polygon points="984.55,1191.43 1008.05,1150.73 961.05,1150.73" fill="#FF00FF"/>
<polygon points="1151.56,1174.29 1175.06,1133.59 1128.06,1133.59" fill="#FF00FF"/>
<polygon points="1318.57,1122.88 1342.07,1082.17 1295.07,1082.17" fill="#FF00FF"/>
<polygon points="1485.59,587.00 1509.09,546.29 1462.09,546.29" fill="#FF00FF"/>
<polygon points="1652.60,413.32 1676.10,372.62 1629.10,372.62" fill="#FF00FF"/>
<path d="M400.00,1218.00 L409.76,1218.00 L419.35,1218.00 L428.78,1218.00 L438.05,1217.99 L447.16,1217.99 L456.10,1217.97 L464.89,1217.96 L473.53,1217.94 L482.01,1217.91 L490.34,1217.88 L498.52,1217.84 L506.55,1217.80 L514.44,1217.74 L522.18,1217.68 L529.78,1217.60 L537.25,1217.52 L544.57,1217.42 L551.76,1217.32 L558.81,1217.20 L565.73,1217.06 L572.52,1216.92 L579.19,1216.75 L585.72,1216.57 L592.13,1216.38 L598.42,1216.17 L604.59,1215.94 L610.64,1215.69 L616.58,1215.43 L622.39,1215.14 L628.10,1214.84 L633.70,1214.51 L639.18,1214.16 L644.56,1213.79 L649.83,1213.40 L655.00,1212.98 L660.07,1212.53 L665.04,1212.07 L669.91,1211.57 L674.69,1211.05 L679.37,1210.50 L683.96,1209.93 L688.46,1209.32 L692.87,1208.69 L697.20,1208.02 L701.44,1207.33 L705.61,1206.60 L709.69,1205.84 L713.69,1205.04 L717.62,1204.22 L721.47,1203.36 L725.25,1202.46 L728.95,1201.53 L732.59,1200.56 L736.17,1199.55 L739.68,1198.51 L743.12,1197.43 L746.51,1196.31 L749.83,1195.14 L753.10,1193.94 L756.32,1192.70 L759.48,1191.41 L762.59,1190.08 L765.65,1188.71 L768.66,1187.29 L771.62,1185.83 L774.55,1184.32 L777.43,1182.77 L780.27,1181.17 L783.07,1179.52 L785.84,1177.82 L788.58,1176.07 L791.28,1174.28 L793.95,1172.43 L796.59,1170.53 L799.21,1168.58 L801.81,1166.58 L804.38,1164.52 L806.93,1162.41 L809.46,1160.24 L811.97,1158.02 L814.47,1155.74 L816.96,1153.41 L819.43,1151.02 L821.88,1148.57 L824.33,1146.07 L826.75,1143.51 L829.17,1140.90 L831.57,1138.22 L833.96,1135.50 L836.33,1132.71 L838.69,1129.87 L841.04,1126.97 L843.38,1124.01 L845.70,1120.99 L848.02,1117.92 L850.32,1114.79 L852.61,1111.60 L854.89,1108.36 L857.15,1105.06 L859.41,1101.70 L861.66,1098.28 L863.89,1094.80 L866.12,1091.27 L868.33,1087.67 L870.54,1084.02 L872.74,1080.31 L874.92,1076.55 L877.10,1072.72 L879.27,1068.83 L881.43,1064.89 L883.59,1060.89 L885.73,1056.83 L887.87,1052.71 L890.00,1048.53 L892.12,1044.29 L894.24,1039.99 L896.34,1035.63 L898.45,1031.22 L900.54,1026.74 L902.63,1022.21 L904.71,1017.61 L906.79,1012.95 L908.86,1008.24 L910.93,1003.46 L912.99,998.63 L915.04,993.73 L917.09,988.78 L919.14,983.76 L921.18,978.68 L923.22,973.55 L925.26,968.35 L927.29,963.09 L929.31,957.77 L931.34,952.39 L933.36,946.95 L935.38,941.45 L937.40,935.89 L939.41,930.26 L941.42,924.58 L943.43,918.83 L945.44,913.02 L947.45,907.15 L949.46,901.22 L951.46,895.22 L953.47,889.17 L955.47,883.05 L957.48,876.87 L959.48,870.63 L961.49,864.32 L963.49,857.96 L965.50,851.53 L967.51,845.04 L969.51,838.48 L971.52,831.87 L973.54,825.19 L975.55,818.44 L977.56,811.64 L979.58,804.77 L981.60,797.84 L983.62,790.84 L985.65,783.79 L987.68,776.67 L989.71,769.49 L991.74,762.26 L993.78,754.98 L995.82,747.64 L997.86,740.26 L999.91,732.83 L1001.95,725.35 L1004.00,717.84 L1006.06,710.28 L1008.11,702.68 L1010.17,695.05 L1012.23,687.39 L1014.29,679.70 L1016.35,671.97 L1018.42,664.22 L1020.49,656.45 L1022.56,648.65 L1024.63,640.84 L1026.71,633.01 L1028.78,625.16 L1030.86,617.30 L1032.94,609.43 L1035.03,601.55 L1037.11,593.66 L1039.20,585.78 L1041.29,577.89 L1043.38,570.00 L1045.47,562.11 L1047.56,554.23 L1049.66,546.35 L1051.76,538.49 L1053.85,530.63 L1055.96,522.79 L1058.06,514.97 L1060.16,507.17 L1062.26,499.38 L1064.37,491.62 L1066.48,483.89 L1068.59,476.18 L1070.70,468.51 L1072.81,460.86 L1074.92,453.25 L1077.03,445.68 L1079.15,438.14 L1081.26,430.65 L1083.38,423.20 L1085.50,415.80 L1087.62,408.44 L1089.74,401.13 L1091.86,393.88 L1093.98,386.68 L1096.10,379.54 L1098.23,372.45 L1100.35,365.43 L1102.47,358.47 L1104.60,351.58 L1106.72,344.76 L1108.85,338.00 L1110.98,331.32 L1113.11,324.72 L1115.23,318.19 L1117.36,311.74 L1119.49,305.37 L1121.62,299.09 L1123.75,292.89 L1125.88,286.78 L1128.01,280.76 L1130.14,274.84 L1132.27,269.01 L1134.40,263.27 L1136.53,257.64 L1138.66,252.11 L1140.79,246.68 L1142.92,241.36 L1145.05,236.15 L1147.18,231.05 L1149.31,226.06 L1151.44,221.19 L1153.57,216.43 L1155.70,211.79 L1157.83,207.26 L1159.96,202.84 L1162.09,198.53 L1164.22,194.33 L1166.36,190.23 L1168.49,186.24 L1170.63,182.36 L1172.76,178.58 L1174.90,174.89 L1177.04,171.31 L1179.18,167.83 L1181.32,164.44 L1183.47,161.15 L1185.61,157.95 L1187.76,154.85 L1189.92,151.83 L1192.07,148.91 L1194.23,146.07 L1196.39,143.32 L1198.55,140.66 L1200.72,138.07 L1202.89,135.58 L1205.07,133.16 L1207.25,130.82 L1209.43,128.56 L1211.62,126.37 L1213.81,124.27 L1216.00,122.23 L1218.20,120.27 L1220.41,118.37 L1222.62,116.55 L1224.84,114.80 L1227.06,113.11 L1229.28,111.49 L1231.51,109.93 L1233.75,108.43 L1236.00,106.99 L1238.25,105.61 L1240.50,104.29 L1242.76,103.03 L1245.03,101.82 L1247.31,100.66 L1249.59,99.56 L1251.88,98.51 L1254.18,97.51 L1256.48,96.55 L1258.79,95.64 L1261.11,94.78 L1263.44,93.95 L1265.78,93.17 L1268.12,92.44 L1270.47,91.74 L1272.83,91.07 L1275.20,90.45 L1277.58,89.86 L1279.97,89.30 L1282.36,88.77 L1284.77,88.28 L1287.18,87.81 L1289.61,87.37 L1292.04,86.96 L1294.49,86.57 L1296.94,86.20 L1299.40,85.86 L1301.88,85.54 L1304.36,85.23 L1306.86,84.95 L1309.37,84.68 L1311.89,84.42 L1314.41,84.18 L1316.96,83.94 L1319.51,83.72 L1322.07,83.51 L1324.65,83.31 L1327.23,83.11 L1329.83,82.91 L1332.45,82.72 L1335.07,82.53 L1337.71,82.34 L1340.36,82.15 L1343.03,81.97 L1345.71,81.78 L1348.41,81.60 L1351.12,81.42 L1353.86,81.24 L1356.61,81.06 L1359.39,80.88 L1362.18,80.71 L1365.00,80.53 L1367.83,80.36 L1370.69,80.19 L1373.58,80.03 L1376.49,79.86 L1379.42,79.70 L1382.39,79.54 L1385.38,79.38 L1388.39,79.22 L1391.44,79.06 L1394.52,78.91 L1397.62,78.76 L1400.76,78.61 L1403.93,78.47 L1407.14,78.32 L1410.38,78.18 L1413.65,78.04 L1416.96,77.91 L1420.31,77.77 L1423.69,77.64 L1427.11,77.51 L1430.57,77.39 L1434.07,77.27 L1437.61,77.15 L1441.19,77.03 L1444.82,76.91 L1448.49,76.80 L1452.20,76.70 L1455.95,76.59 L1459.76,76.49 L1463.61,76.39 L1467.50,76.29 L1471.45,76.20 L1475.44,76.11 L1479.48,76.03 L1483.58,75.94 L1487.72,75.86 L1491.92,75.79 L1496.17,75.72 L1500.48,75.65 L1504.84,75.58 L1509.26,75.52 L1513.73,75.46 L1518.26,75.41 L1522.85,75.36 L1527.49,75.31 L1532.20,75.27 L1536.97,75.23 L1541.80,75.20 L1546.69,75.17 L1551.65,75.14 L1556.66,75.12 L1561.75,75.10 L1566.90,75.08 L1572.12,75.07 L1577.40,75.07 L1582.75,75.07 L1588.17,75.07 L1593.66,75.08 L1599.23,75.09 L1604.86,75.10 L1610.56,75.12 L1616.34,75.15 L1622.20,75.18 L1628.12,75.21 L1634.13,75.25 L1640.21,75.30 L1646.37,75.35 L1652.60,75.40" fill="none" stroke="#008000" stroke-width="5.5" stroke-linejoin="round"/>
<polygon points="400.00,1193.00 425.00,1218.00 400.00,1243.00 375.00,1218.00" fill="#008000"/>
<polygon points="650.52,1193.00 675.52,1218.00 650.52,1243.00 625.52,1218.00" fill="#008000"/>
<polygon points="817.53,1193.00 842.53,1218.00 817.53,1243.00 792.53,1218.00" fill="#008000"/>
<polygon points="984.55,829.65 1009.55,854.65 984.55,879.65 959.55,854.65" fill="#008000"/>
<polygon points="1151.56,76.68 1176.56,101.68 1151.56,126.68 1126.56,101.68" fill="#008000"/>
<polygon points="1318.57,58.40 1343.57,83.40 1318.57,108.40 1293.57,83.40" fill="#008000"/>
<polygon points="1485.59,50.40 1510.59,75.40 1485.59,100.40 1460.59,75.40" fill="#008000"/>
<polygon points="1652.60,50.40 1677.60,75.40 1652.60,100.40 1627.60,75.40" fill="#008000"/>
<path d="M400.00,1218.00 L409.34,1218.00 L418.52,1218.00 L427.55,1218.00 L436.43,1218.00 L445.16,1218.00 L453.74,1218.00 L462.17,1218.00 L470.46,1218.00 L478.61,1218.00 L486.61,1217.99 L494.48,1217.99 L502.21,1217.99 L509.80,1217.99 L517.26,1217.98 L524.58,1217.98 L531.78,1217.98 L538.85,1217.97 L545.79,1217.97 L552.60,1217.96 L559.30,1217.96 L565.87,1217.95 L572.32,1217.94 L578.66,1217.93 L584.88,1217.92 L590.98,1217.91 L596.97,1217.90 L602.86,1217.89 L608.63,1217.88 L614.30,1217.86 L619.86,1217.85 L625.32,1217.83 L630.68,1217.82 L635.94,1217.80 L641.10,1217.78 L646.16,1217.76 L651.13,1217.74 L656.01,1217.72 L660.80,1217.69 L665.50,1217.67 L670.11,1217.64 L674.64,1217.61 L679.08,1217.58 L683.45,1217.55 L687.73,1217.52 L691.94,1217.49 L696.07,1217.45 L700.12,1217.42 L704.10,1217.38 L708.02,1217.34 L711.86,1217.30 L715.63,1217.25 L719.35,1217.21 L722.99,1217.16 L726.58,1217.11 L730.11,1217.06 L733.58,1217.01 L736.99,1216.96 L740.35,1216.90 L743.65,1216.85 L746.91,1216.79 L750.11,1216.72 L753.27,1216.66 L756.38,1216.59 L759.45,1216.53 L762.48,1216.46 L765.47,1216.38 L768.42,1216.31 L771.34,1216.23 L774.22,1216.15 L777.06,1216.07 L779.88,1215.99 L782.67,1215.90 L785.43,1215.81 L788.16,1215.72 L790.87,1215.63 L793.56,1215.53 L796.23,1215.43 L798.88,1215.33 L801.52,1215.23 L804.14,1215.12 L806.74,1215.01 L809.34,1214.90 L811.92,1214.79 L814.49,1214.67 L817.05,1214.55 L819.59,1214.43 L822.12,1214.30 L824.64,1214.18 L827.15,1214.05 L829.65,1213.92 L832.13,1213.79 L834.61,1213.65 L837.07,1213.52 L839.52,1213.38 L841.96,1213.24 L844.39,1213.10 L846.81,1212.95 L849.22,1212.81 L851.62,1212.66 L854.01,1212.52 L856.39,1212.37 L858.76,1212.22 L861.12,1212.07 L863.47,1211.91 L865.82,1211.76 L868.15,1211.61 L870.47,1211.45 L872.79,1211.29 L875.10,1211.14 L877.40,1210.98 L879.69,1210.82 L881.97,1210.66 L884.25,1210.50 L886.51,1210.34 L888.77,1210.18 L891.03,1210.02 L893.27,1209.86 L895.51,1209.69 L897.74,1209.53 L899.97,1209.37 L902.19,1209.21 L904.40,1209.05 L906.60,1208.88 L908.80,1208.72 L911.00,1208.56 L913.19,1208.40 L915.37,1208.24 L917.55,1208.08 L919.72,1207.92 L921.89,1207.76 L924.05,1207.60 L926.21,1207.44 L928.36,1207.29 L930.51,1207.13 L932.65,1206.97 L934.79,1206.82 L936.93,1206.67 L939.06,1206.51 L941.19,1206.36 L943.32,1206.21 L945.44,1206.07 L947.56,1205.92 L949.68,1205.77 L951.79,1205.63 L953.90,1205.49 L956.01,1205.34 L958.12,1205.20 L960.23,1205.07 L962.33,1204.93 L964.43,1204.80 L966.53,1204.67 L968.63,1204.54 L970.73,1204.41 L972.82,1204.28 L974.92,1204.16 L977.01,1204.04 L979.10,1203.92 L981.20,1203.80 L983.29,1203.69 L985.38,1203.58 L987.48,1203.47 L989.57,1203.36 L991.66,1203.26 L993.76,1203.16 L995.85,1203.06 L997.94,1202.96 L1000.03,1202.87 L1002.13,1202.77 L1004.22,1202.68 L1006.31,1202.59 L1008.41,1202.50 L1010.50,1202.41 L1012.59,1202.33 L1014.68,1202.24 L1016.78,1202.16 L1018.87,1202.08 L1020.96,1201.99 L1023.06,1201.91 L1025.15,1201.83 L1027.24,1201.75 L1029.33,1201.67 L1031.43,1201.59 L1033.52,1201.51 L1035.61,1201.44 L1037.71,1201.36 L1039.80,1201.28 L1041.89,1201.20 L1043.99,1201.12 L1046.08,1201.04 L1048.17,1200.96 L1050.26,1200.88 L1052.36,1200.80 L1054.45,1200.72 L1056.54,1200.64 L1058.64,1200.55 L1060.73,1200.47 L1062.82,1200.38 L1064.91,1200.29 L1067.01,1200.20 L1069.10,1200.11 L1071.19,1200.02 L1073.29,1199.93 L1075.38,1199.83 L1077.47,1199.73 L1079.56,1199.64 L1081.66,1199.53 L1083.75,1199.43 L1085.84,1199.32 L1087.94,1199.21 L1090.03,1199.10 L1092.12,1198.99 L1094.21,1198.87 L1096.31,1198.75 L1098.40,1198.63 L1100.49,1198.50 L1102.59,1198.38 L1104.68,1198.24 L1106.77,1198.11 L1108.87,1197.97 L1110.96,1197.83 L1113.05,1197.68 L1115.14,1197.53 L1117.24,1197.38 L1119.33,1197.22 L1121.42,1197.05 L1123.52,1196.89 L1125.61,1196.72 L1127.70,1196.54 L1129.79,1196.36 L1131.89,1196.18 L1133.98,1195.99 L1136.07,1195.79 L1138.17,1195.59 L1140.26,1195.39 L1142.35,1195.18 L1144.44,1194.97 L1146.54,1194.75 L1148.63,1194.52 L1150.72,1194.29 L1152.82,1194.05 L1154.91,1193.81 L1157.00,1193.56 L1159.10,1193.31 L1161.19,1193.05 L1163.29,1192.79 L1165.38,1192.52 L1167.48,1192.24 L1169.58,1191.97 L1171.68,1191.68 L1173.78,1191.40 L1175.88,1191.11 L1177.99,1190.81 L1180.09,1190.51 L1182.20,1190.21 L1184.31,1189.90 L1186.43,1189.59 L1188.54,1189.28 L1190.66,1188.96 L1192.79,1188.64 L1194.91,1188.32 L1197.04,1187.99 L1199.18,1187.66 L1201.31,1187.33 L1203.45,1187.00 L1205.60,1186.66 L1207.75,1186.32 L1209.90,1185.98 L1212.06,1185.64 L1214.22,1185.30 L1216.39,1184.95 L1218.56,1184.61 L1220.74,1184.26 L1222.92,1183.91 L1225.11,1183.56 L1227.30,1183.21 L1229.50,1182.86 L1231.71,1182.51 L1233.92,1182.16 L1236.14,1181.80 L1238.37,1181.45 L1240.60,1181.10 L1242.84,1180.75 L1245.08,1180.39 L1247.33,1180.04 L1249.59,1179.69 L1251.86,1179.34 L1254.14,1178.99 L1256.42,1178.64 L1258.71,1178.30 L1261.01,1177.95 L1263.32,1177.61 L1265.63,1177.26 L1267.96,1176.92 L1270.29,1176.58 L1272.63,1176.24 L1274.99,1175.91 L1277.35,1175.57 L1279.72,1175.24 L1282.10,1174.92 L1284.49,1174.59 L1286.89,1174.27 L1289.30,1173.95 L1291.72,1173.63 L1294.15,1173.32 L1296.59,1173.01 L1299.04,1172.70 L1301.50,1172.40 L1303.98,1172.10 L1306.46,1171.81 L1308.96,1171.52 L1311.47,1171.23 L1313.99,1170.95 L1316.52,1170.67 L1319.06,1170.40 L1321.62,1170.13 L1324.19,1169.87 L1326.77,1169.61 L1329.36,1169.35 L1331.97,1169.11 L1334.59,1168.87 L1337.22,1168.63 L1339.87,1168.40 L1342.54,1168.17 L1345.22,1167.95 L1347.91,1167.72 L1350.63,1167.51 L1353.36,1167.29 L1356.12,1167.08 L1358.89,1166.86 L1361.68,1166.65 L1364.50,1166.44 L1367.34,1166.23 L1370.20,1166.02 L1373.09,1165.81 L1376.00,1165.59 L1378.94,1165.37 L1381.91,1165.15 L1384.90,1164.93 L1387.93,1164.71 L1390.98,1164.48 L1394.06,1164.24 L1397.17,1164.00 L1400.32,1163.76 L1403.49,1163.51 L1406.70,1163.25 L1409.95,1162.99 L1413.23,1162.72 L1416.55,1162.44 L1419.90,1162.15 L1423.29,1161.86 L1426.72,1161.55 L1430.19,1161.24 L1433.70,1160.91 L1437.25,1160.58 L1440.84,1160.23 L1444.47,1159.87 L1448.15,1159.50 L1451.87,1159.12 L1455.63,1158.72 L1459.45,1158.31 L1463.30,1157.89 L1467.21,1157.45 L1471.16,1156.99 L1475.17,1156.52 L1479.22,1156.04 L1483.33,1155.54 L1487.48,1155.02 L1491.69,1154.48 L1495.95,1153.93 L1500.26,1153.36 L1504.64,1152.77 L1509.06,1152.16 L1513.54,1151.52 L1518.08,1150.87 L1522.68,1150.20 L1527.34,1149.51 L1532.05,1148.80 L1536.83,1148.06 L1541.67,1147.30 L1546.57,1146.52 L1551.53,1145.71 L1556.56,1144.88 L1561.65,1144.02 L1566.81,1143.14 L1572.04,1142.24 L1577.33,1141.30 L1582.69,1140.35 L1588.11,1139.36 L1593.61,1138.35 L1599.18,1137.31 L1604.82,1136.24 L1610.53,1135.14 L1616.32,1134.01 L1622.18,1132.85 L1628.11,1131.66 L1634.12,1130.44 L1640.20,1129.19 L1646.36,1127.91 L1652.60,1126.59" fill="none" stroke="#FF8000" stroke-width="5.5" stroke-linejoin="round"/>
<polygon points="372.86,1218.00 413.57,1194.50 413.57,1241.50" fill="#FF8000"/>
<polygon points="623.38,1218.00 664.09,1194.50 664.09,1241.50" fill="#FF8000"/>
<polygon points="790.40,1218.00 831.10,1194.50 831.10,1241.50" fill="#FF8000"/>
<polygon points="957.41,1200.86 998.11,1177.36 998.11,1224.36" fill="#FF8000"/>
<polygon points="1124.43,1200.29 1165.13,1176.79 1165.13,1223.79" fill="#FF8000"/>
<polygon points="1291.44,1163.16 1332.14,1139.66 1332.14,1186.66" fill="#FF8000"/>
<polygon points="1458.45,1162.01 1499.16,1138.51 1499.16,1185.51" fill="#FF8000"/>
<polygon points="1625.47,1126.59 1666.17,1103.09 1666.17,1150.09" fill="#FF8000"/>
<rect x="191.1" y="18.8" width="1670.20" height="1256.20" fill="none" stroke="#000" stroke-width="6.3"/>
<line x1="165.10" y1="1218.00" x2="191.10" y2="1218.00" stroke="#000" stroke-width="5.4"/>
<line x1="178.10" y1="1103.74" x2="191.10" y2="1103.74" stroke="#000" stroke-width="5.4"/>
<line x1="165.10" y1="989.48" x2="191.10" y2="989.48" stroke="#000" stroke-width="5.4"/>
<line x1="178.10" y1="875.22" x2="191.10" y2="875.22" stroke="#000" stroke-width="5.4"/>
<line x1="165.10" y1="760.96" x2="191.10" y2="760.96" stroke="#000" stroke-width="5.4"/>
<line x1="178.10" y1="646.70" x2="191.10" y2="646.70" stroke="#000" stroke-width="5.4"/>
<line x1="165.10" y1="532.44" x2="191.10" y2="532.44" stroke="#000" stroke-width="5.4"/>
<line x1="178.10" y1="418.18" x2="191.10" y2="418.18" stroke="#000" stroke-width="5.4"/>
<line x1="165.10" y1="303.92" x2="191.10" y2="303.92" stroke="#000" stroke-width="5.4"/>
<line x1="178.10" y1="189.66" x2="191.10" y2="189.66" stroke="#000" stroke-width="5.4"/>
<line x1="165.10" y1="75.40" x2="191.10" y2="75.40" stroke="#000" stroke-width="5.4"/>
<line x1="191.23" y1="1275.00" x2="191.23" y2="1288.00" stroke="#000" stroke-width="5.4"/>
<line x1="400.00" y1="1275.00" x2="400.00" y2="1300.00" stroke="#000" stroke-width="5.4"/>
<line x1="608.76" y1="1275.00" x2="608.76" y2="1288.00" stroke="#000" stroke-width="5.4"/>
<line x1="817.53" y1="1275.00" x2="817.53" y2="1300.00" stroke="#000" stroke-width="5.4"/>
<line x1="1026.30" y1="1275.00" x2="1026.30" y2="1288.00" stroke="#000" stroke-width="5.4"/>
<line x1="1235.07" y1="1275.00" x2="1235.07" y2="1300.00" stroke="#000" stroke-width="5.4"/>
<line x1="1443.84" y1="1275.00" x2="1443.84" y2="1288.00" stroke="#000" stroke-width="5.4"/>
<line x1="1652.60" y1="1275.00" x2="1652.60" y2="1300.00" stroke="#000" stroke-width="5.4"/>
<line x1="1861.37" y1="1275.00" x2="1861.37" y2="1288.00" stroke="#000" stroke-width="5.4"/>
<text x="152" y="1232.50" font-family="Liberation Serif, Times New Roman, serif" font-weight="bold" font-size="53" text-anchor="end">0</text>
<text x="152" y="1003.98" font-family="Liberation Serif, Times New Roman, serif" font-weight="bold" font-size="53" text-anchor="end">20</text>
<text x="152" y="775.46" font-family="Liberation Serif, Times New Roman, serif" font-weight="bold" font-size="53" text-anchor="end">40</text>
<text x="152" y="546.94" font-family="Liberation Serif, Times New Roman, serif" font-weight="bold" font-size="53" text-anchor="end">60</text>
<text x="152" y="318.42" font-family="Liberation Serif, Times New Roman, serif" font-weight="bold" font-size="53" text-anchor="end">80</text>
<text x="152" y="89.90" font-family="Liberation Serif, Times New Roman, serif" font-weight="bold" font-size="53" text-anchor="end">100</text>
<text x="399.00" y="1352" font-family="Liberation Serif, Times New Roman, serif" font-weight="bold" font-size="53" text-anchor="middle">150</text>
<text x="816.53" y="1352" font-family="Liberation Serif, Times New Roman, serif" font-weight="bold" font-size="53" text-anchor="middle">200</text>
<text x="1234.07" y="1352" font-family="Liberation Serif, Times New Roman, serif" font-weight="bold" font-size="53" text-anchor="middle">250</text>
<text x="1651.60" y="1352" font-family="Liberation Serif, Times New Roman, serif" font-weight="bold" font-size="53" text-anchor="middle">300</text>
<text transform="translate(68.5,1059) rotate(-90)" font-family="Liberation Serif, Times New Roman, serif" font-weight="bold" font-size="77" textLength="792" lengthAdjust="spacing">Conversion Benzene (%)</text>
<text x="778.7" y="1430.3" font-family="Liberation Serif, Times New Roman, serif" font-weight="bold" font-size="72" letter-spacing="1.96">Temperature</text>
<text x="1216" y="1430.8" font-family="Liberation Serif, Times New Roman, serif" font-size="60" stroke="#000" stroke-width="0.9">(</text>
<text x="1234.4" y="1391.3" font-family="Liberation Serif, Times New Roman, serif" font-size="46" stroke="#000" stroke-width="0.8">o</text>
<text x="1255.5" y="1431" font-family="Liberation Serif, Times New Roman, serif" font-weight="bold" font-size="76">C</text>
<text x="1311" y="1430.8" font-family="Liberation Serif, Times New Roman, serif" font-size="60" stroke="#000" stroke-width="0.9">)</text>
<text x="1677.6" y="609.8" font-family="Liberation Serif, Times New Roman, serif" font-weight="bold" font-size="72.5" letter-spacing="2.1">50 %</text>
<line x1="205.2" y1="85.30" x2="338.7" y2="85.30" stroke="#000000" stroke-width="5.3"/>
<rect x="257.30" y="71.30" width="28.0" height="28.0" fill="#000000"/>
<text x="368" y="104.80" font-family="Liberation Serif, Times New Roman, serif" font-weight="bold" font-size="67">NaX</text>
<line x1="205.2" y1="170.20" x2="338.7" y2="170.20" stroke="#FF8000" stroke-width="5.3"/>
<polygon points="254.10,170.20 283.50,151.30 283.50,189.10" fill="#FF8000"/>
<text x="353" y="189.70" font-family="Liberation Serif, Times New Roman, serif" font-weight="bold" font-size="67">Fe NaX</text>
<line x1="205.2" y1="255.10" x2="338.7" y2="255.10" stroke="#FF0000" stroke-width="5.3"/>
<circle cx="271.30" cy="255.10" r="15.5" fill="#FF0000"/>
<text x="353" y="274.60" font-family="Liberation Serif, Times New Roman, serif" font-weight="bold" font-size="67">Pt NaX</text>
<line x1="205.2" y1="340.00" x2="338.7" y2="340.00" stroke="#0000FF" stroke-width="5.3"/>
<polygon points="271.30,318.29 290.10,350.85 252.50,350.85" fill="#0000FF"/>
<text x="353" y="359.50" font-family="Liberation Serif, Times New Roman, serif" font-weight="bold" font-size="67">PtFe NaX</text>
<line x1="205.2" y1="424.90" x2="338.7" y2="424.90" stroke="#FF00FF" stroke-width="5.3"/>
<polygon points="271.30,446.61 290.10,414.05 252.50,414.05" fill="#FF00FF"/>
<text x="353" y="444.40" font-family="Liberation Serif, Times New Roman, serif" font-weight="bold" font-size="67" letter-spacing="1">FANaX</text>
<line x1="205.2" y1="509.80" x2="338.7" y2="509.80" stroke="#008000" stroke-width="5.3"/>
<polygon points="271.30,490.30 290.80,509.80 271.30,529.30 251.80,509.80" fill="#008000"/>
<text x="353" y="529.30" font-family="Liberation Serif, Times New Roman, serif" font-weight="bold" font-size="67" letter-spacing="0.7">Pt FANaX</text>
</svg></body></html>
